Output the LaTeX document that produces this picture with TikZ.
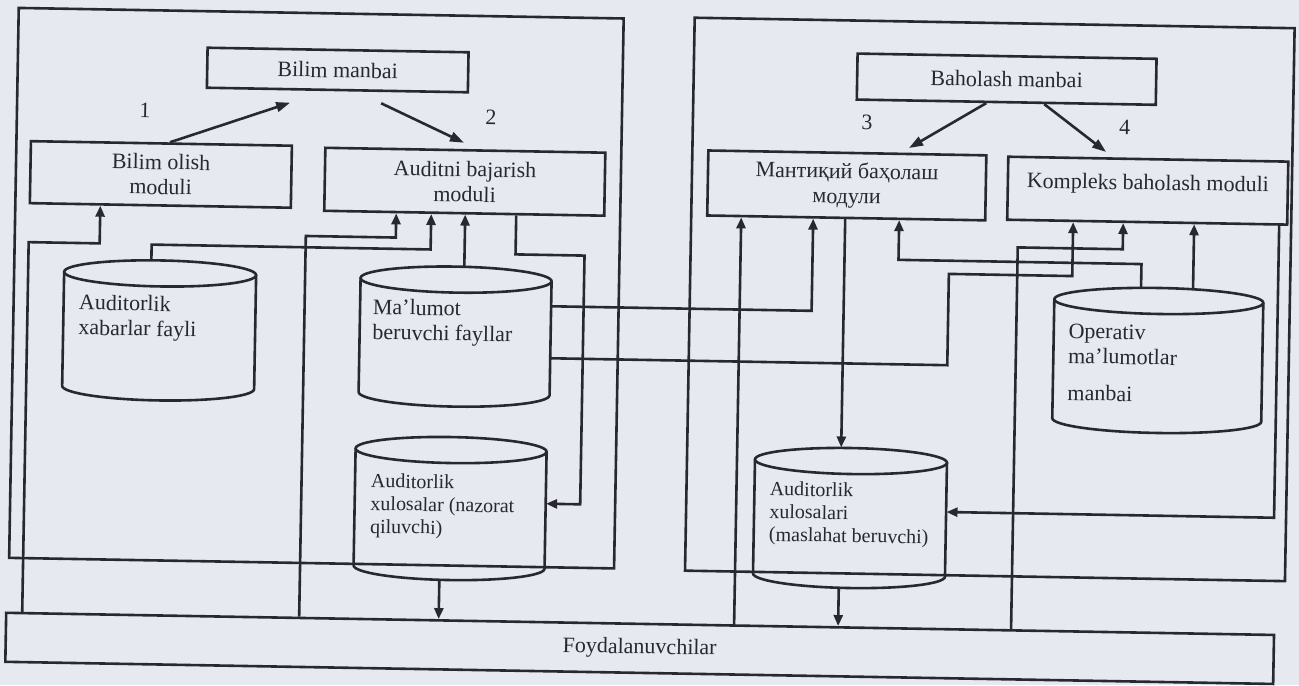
\documentclass[tikz,border=0pt]{standalone}
\usepackage{fontspec}
\setmainfont{Liberation Serif}
\usetikzlibrary{arrows.meta}

\definecolor{paper}{RGB}{231,233,240}
\definecolor{ink}{RGB}{40,40,48}

\tikzset{
  lbl/.style={font=\fontsize{11}{12.5}\selectfont, text=ink},
  small/.style={font=\fontsize{10}{11.4}\selectfont},
  boxdim/.style 2 args={minimum width=#1*0.5pt, minimum height=#2*0.5pt},
  module/.style={draw=ink, line width=1.3pt, lbl, align=center, inner sep=0pt},
  panel/.style={draw=ink, line width=1.3pt, inner sep=0pt},
  drumbody/.style={draw=none, inner sep=0pt},
  drumtext/.style={lbl, align=left, anchor=north west, inner sep=0pt},
  wire/.style={draw=ink, line width=1.3pt},
  flow/.style={wire, -{Triangle[length=5.5pt,width=4.5pt]}},
  bigflow/.style={wire, -{Triangle[length=7pt,width=4.8pt]}},
}

% database drum: name, centre x, centre y, width, height (px units)
\newcommand\drum[5]{%
  \node[drumbody, boxdim={#4}{#5}] (#1) at (#2,#3) {};
  \draw[wire] (#2,{#3-#5/2+13}) ellipse [x radius={#4/2}, y radius=13];
  \draw[wire] ({#2-#4/2},{#3-#5/2+13}) -- ({#2-#4/2},{#3+#5/2-13})
     arc[start angle=180, end angle=0, x radius={#4/2}, y radius=13]
     -- ({#2+#4/2},{#3-#5/2+13});
}

\begin{document}
\begin{tikzpicture}[x=0.5pt, y=-0.5pt]
\useasboundingbox (0,0) rectangle (1299,685);
\fill[paper] (0,0) rectangle (1299,685);

\begin{scope}[transform canvas={rotate around={-1:(650,343)}}]

% outer panels and the users bar
\node[panel, boxdim={605}{550}] (LP) at (315.5,294) {};
\node[panel, boxdim={600}{553}] (RP) at (989,293.5) {};
\node[module, boxdim={1268}{49}] (Fo) at (645,648.5) {Foydalanuvchilar};

% modules
\node[module, boxdim={261}{40}] (BM) at (333,75.5) {Bilim manbai};
\node[module, boxdim={261}{62}] (BO) at (158,183) {Bilim olish\\moduli};
\node[module, boxdim={280}{63}] (AB) at (462,185) {Auditni bajarish\\moduli};
\node[module, boxdim={299}{46}] (HM) at (1002,73) {Baholash manbai};
\node[module, boxdim={278}{65}] (MB) at (844,182) {Мантиқий баҳолаш\\модули};
\node[module, boxdim={280}{63}, text height=7.5pt, text depth=8.2pt] (KB) at (1145,182) {Kompleks baholash moduli};

% data stores
\drum{C1}{159}{339}{192}{140}
\drum{C2}{455}{340}{191}{140}
\drum{C3}{453}{512}{191}{143}
\drum{C4}{853}{514.5}{192}{140}
\drum{C5}{1158}{351.6}{209}{145}

\node[drumtext] (C1t) at (78,304) {Auditorlik\\xabarlar fayli};
\node[drumtext] (C2t) at (372,303.5) {Ma’lumot\\beruvchi fayllar};
\node[drumtext, small] (C3t) at (373,478) {Auditorlik\\xulosalar (nazorat\\qiluvchi)};
\node[drumtext, small] (C4t) at (772,479) {Auditorlik\\xulosalari\\(maslahat beruvchi)};
\node[drumtext] (C5t) at (1068,316) {Operativ\\ma’lumotlar\\[6pt]manbai};

% numbered links to the sources
\node[lbl] (n1) at (141,119) {1};
\node[lbl] (n2) at (487,120) {2};
\node[lbl] (n3) at (863,119) {3};
\node[lbl] (n4) at (1121,119) {4};

\coordinate (p1a) at (166.5,0);  \coordinate (p1b) at (286,109);
\coordinate (p2a) at (377,108);  \coordinate (p2b) at (460.5,146);
\coordinate (p3a) at (982,0);    \coordinate (p3b) at (905.6,143.5);
\coordinate (p4a) at (1040,0);   \coordinate (p4b) at (1102.7,144);
\draw[bigflow] (p1a |- BO.north) -- (p1b);
\draw[bigflow] (p2a) -- (p2b);
\draw[bigflow] (p3a |- HM.south) -- (p3b);
\draw[bigflow] (p4a |- HM.south) -- (p4b);

% left part connectors
\coordinate (q5a) at (27,253);    \coordinate (q5b) at (98,253);
\draw[flow] (q5a |- Fo.north) -- (q5a) -- (q5b) -- (q5b |- BO.south);

\coordinate (q6a) at (304,242);   \coordinate (q6b) at (394,242);
\draw[flow] (q6a |- Fo.north) -- (q6a) -- (q6b) -- (q6b |- AB.south);

\coordinate (q7a) at (150,253.3); \coordinate (q7b) at (429,253.3);
\draw[flow] (q7a |- C1.north) -- (q7a) -- (q7b) -- (q7b |- AB.south);

\coordinate (q8) at (463,0);
\draw[flow] (q8 |- C2.north) -- (q8 |- AB.south);

\coordinate (q9a) at (514,256.75); \coordinate (q9b) at (583,256.75); \coordinate (q9c) at (583,505.5);
\draw[flow] (q9a |- AB.south) -- (q9a) -- (q9b) -- (q9c) -- (q9c -| C3.east);

\coordinate (q10) at (443.5,0);
\draw[flow] (q10 |- C3.south) -- (q10 |- Fo.north);

% connectors crossing to the right part
\coordinate (q11) at (811,308);
\draw[flow] (q11 -| C2.east) -- (q11) -- (q11 |- MB.south);

\coordinate (q12a) at (947.6,360); \coordinate (q12b) at (947.6,268.7); \coordinate (q12c) at (1071,268.7);
\draw[flow] (q12a -| C2.east) -- (q12a) -- (q12b) -- (q12c) -- (q12c |- KB.south);

% right part connectors
\coordinate (q13) at (739,0);
\draw[flow] (q13 |- Fo.north) -- (q13 |- MB.south);

\coordinate (q14) at (843,0);
\draw[flow] (q14 |- MB.south) -- (q14 |- C4.north);
\draw[flow] (q14 |- C4.south) -- (q14 |- Fo.north);

\coordinate (q15a) at (1140,255.5); \coordinate (q15b) at (897,255.5);
\draw[flow] (q15a |- C5.north) -- (q15a) -- (q15b) -- (q15b |- MB.south);

\coordinate (q16a) at (1016,241); \coordinate (q16b) at (1121,241);
\draw[flow] (q16a |- Fo.north) -- (q16a) -- (q16b) -- (q16b |- KB.south);

\coordinate (q17) at (1192,0);
\draw[flow] (q17 |- C5.north) -- (q17 |- KB.south);

\coordinate (q18) at (1277,506.8);
\draw[flow] (q18 |- KB.south) -- (q18) -- (q18 -| C4.east);

\end{scope}
\end{tikzpicture}
\end{document}
